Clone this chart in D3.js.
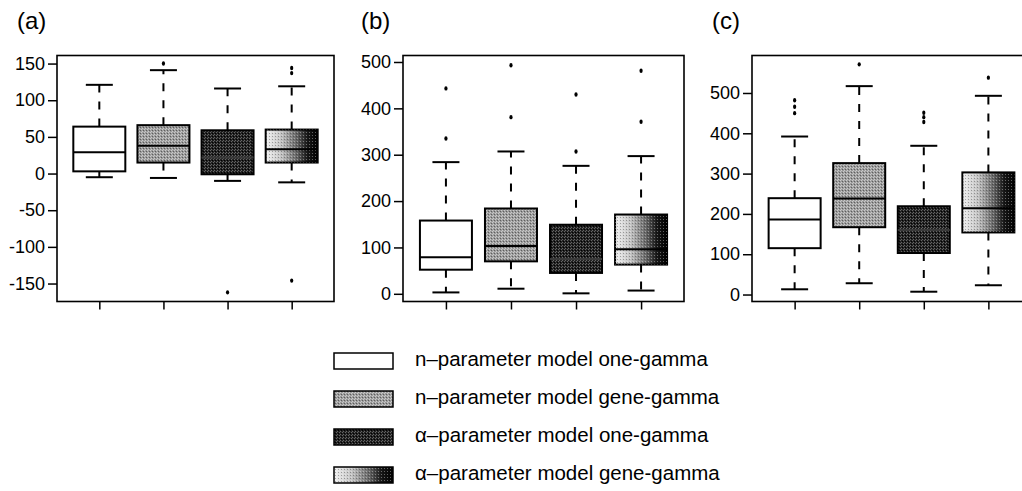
<!DOCTYPE html>
<html>
<head>
<meta charset="utf-8">
<script src="https://cdn.jsdelivr.net/npm/d3@7"></script>
<style>
  html, body { margin: 0; padding: 0; background: #fff; }
  svg { display: block; }
  text { font-family: "Liberation Sans", Arial, Helvetica, sans-serif; fill: #000; }
</style>
</head>
<body>
<svg id="chart" width="1022" height="491"></svg>
<script>
// ---- data -------------------------------------------------------------
const seriesNames = [
  "n\u2013parameter model one-gamma",
  "n\u2013parameter model gene-gamma",
  "\u03b1\u2013parameter model one-gamma",
  "\u03b1\u2013parameter model gene-gamma"
];
const panelLabels = ["(a)", "(b)", "(c)"];

// five-number summaries per series: [lower whisker, Q1, median, Q3, upper whisker]
const statsA = [[-5, 3, 29, 64, 121], [-6, 15, 38, 66, 141], [-10, -1, 22, 59, 116], [-12, 15, 33, 60, 119]];
const statsB = [[3, 52, 79, 158, 284], [11, 70, 103, 184, 307], [1, 45, 75, 149, 276], [7, 63, 96, 171, 297]];
const statsC = [[13, 115, 186, 239, 392], [28, 167, 238, 326, 517], [7, 103, 160, 219, 369], [23, 154, 214, 303, 493]];

// outlying points per series
const outliersA = [[], [150], [-162], [144, 137, -146]];
const outliersB = [[335, 443], [381, 493], [307, 430], [371, 481]];
const outliersC = [[450, 466, 482], [571], [428, 440, 451], [538]];

// y-axis tick values and visible value ranges
const ticksA = [-150, -100, -50, 0, 50, 100, 150];
const ticksB = [0, 100, 200, 300, 400, 500];
const ticksC = [0, 100, 200, 300, 400, 500];
const domainA = [-174.5, 161];
const domainB = [-16.6, 514];
const domainC = [-17.3, 593];

// ---- drawing ----------------------------------------------------------
const svg = d3.select("#chart");
const defs = svg.append("defs");

// halftone-like textures for the fills
function texture(id, base, light, dark) {
  const p = defs.append("pattern").attr("id", id)
    .attr("patternUnits", "userSpaceOnUse").attr("width", 3).attr("height", 3);
  p.append("rect").attr("width", 3).attr("height", 3).attr("fill", base);
  p.append("rect").attr("x", 0).attr("y", 0).attr("width", 1).attr("height", 1).attr("fill", light);
  p.append("rect").attr("x", 2).attr("y", 1).attr("width", 1).attr("height", 1).attr("fill", dark);
  p.append("rect").attr("x", 1).attr("y", 2).attr("width", 1).attr("height", 1).attr("fill", light);
}
texture("texGray", "#9c9c9c", "#cacaca", "#5e5e5e");
texture("texDark", "#222222", "#666666", "#000000");

const grad = defs.append("linearGradient").attr("id", "fade")
  .attr("x1", "0").attr("x2", "1").attr("y1", "0").attr("y2", "0");
[[0, "#f2f2f2"], [0.3, "#c4c4c4"], [0.6, "#666666"], [0.8, "#181818"], [1, "#000"]]
  .forEach(([o, c]) => grad.append("stop").attr("offset", o).attr("stop-color", c));

const dots = defs.append("pattern").attr("id", "dots")
  .attr("patternUnits", "userSpaceOnUse").attr("width", 3).attr("height", 3);
dots.append("rect").attr("x", 0).attr("y", 0).attr("width", 1).attr("height", 1).attr("fill", "#fff").attr("opacity", 0.35);
dots.append("rect").attr("x", 2).attr("y", 1).attr("width", 1).attr("height", 1).attr("fill", "#000").attr("opacity", 0.3);

const fills = ["#ffffff", "url(#texGray)", "url(#texDark)", "url(#fade)"];

const panels = [
  { label: panelLabels[0], stats: statsA, outliers: outliersA, ticks: ticksA, domain: domainA,
    left: 57, right: 334, labelX: 17 },
  { label: panelLabels[1], stats: statsB, outliers: outliersB, ticks: ticksB, domain: domainB,
    left: 403, right: 684, labelX: 361 },
  { label: panelLabels[2], stats: statsC, outliers: outliersC, ticks: ticksC, domain: domainC,
    left: 752, right: 1031, labelX: 712 }
];
const plotTop = 55.5, plotBottom = 301.5;
const boxW = 52, capW = 27;

panels.forEach(p => {
  const g = svg.append("g");
  const x = d3.scalePoint().domain(seriesNames).range([p.left, p.right]).padding(0.66);
  const y = d3.scaleLinear().domain(p.domain).range([plotBottom, plotTop]);

  g.append("text").attr("x", p.labelX).attr("y", 29)
    .style("font-size", "24px").text(p.label);

  // y axis (plain hyphen for negative numbers)
  const ya = g.append("g").attr("transform", `translate(${p.left},0)`)
    .call(d3.axisLeft(y).tickValues(p.ticks).tickFormat(d => String(d))
      .tickSize(9).tickPadding(3).tickSizeOuter(0));
  ya.select(".domain").remove();
  ya.selectAll("line").attr("stroke", "#000").attr("stroke-width", 1.5);
  ya.selectAll("text").style("font-size", "18px").style("font-family", "Liberation Sans, Arial, sans-serif");

  // x axis ticks only
  const xa = g.append("g").attr("transform", `translate(0,${plotBottom})`)
    .call(d3.axisBottom(x).tickSize(8).tickFormat(""));
  xa.select(".domain").remove();
  xa.selectAll("line").attr("stroke", "#000").attr("stroke-width", 1.5);

  // frame
  g.append("rect").attr("x", p.left).attr("y", plotTop)
    .attr("width", p.right - p.left).attr("height", plotBottom - plotTop)
    .attr("fill", "none").attr("stroke", "#000").attr("stroke-width", 1.6);

  p.stats.forEach((s, i) => {
    const cx = x(seriesNames[i]);
    const [lo, q1, med, q3, hi] = s;
    const bg = g.append("g");
    // dashed whiskers
    [[q3, hi], [q1, lo]].forEach(([a, b]) => {
      bg.append("line").attr("x1", cx).attr("x2", cx).attr("y1", y(a)).attr("y2", y(b))
        .attr("stroke", "#000").attr("stroke-width", 2).attr("stroke-dasharray", "8,9");
    });
    [lo, hi].forEach(v => {
      bg.append("line").attr("x1", cx - capW / 2).attr("x2", cx + capW / 2)
        .attr("y1", y(v)).attr("y2", y(v)).attr("stroke", "#000").attr("stroke-width", 2);
    });
    // box
    bg.append("rect").attr("x", cx - boxW / 2).attr("y", y(q3))
      .attr("width", boxW).attr("height", y(q1) - y(q3))
      .attr("fill", fills[i]).attr("stroke", "#000").attr("stroke-width", 2);
    if (i === 3) {
      bg.append("rect").attr("x", cx - boxW / 2).attr("y", y(q3))
        .attr("width", boxW).attr("height", y(q1) - y(q3)).attr("fill", "url(#dots)");
    }
    bg.append("line").attr("x1", cx - boxW / 2).attr("x2", cx + boxW / 2)
      .attr("y1", y(med)).attr("y2", y(med))
      .attr("stroke", i === 2 ? "#3a3a3a" : "#000").attr("stroke-width", 2);
    // outliers
    bg.selectAll("ellipse.out").data(p.outliers[i]).enter().append("ellipse")
      .attr("class", "out").attr("cx", cx).attr("cy", d => y(d))
      .attr("rx", 1.6).attr("ry", 2.2).attr("fill", "#000");
  });
});

// ---- legend -----------------------------------------------------------
const legend = svg.append("g");
const legendY = d3.scalePoint().domain(seriesNames).range([353, 467]);
seriesNames.forEach((name, i) => {
  const ty = legendY(name);
  legend.append("rect").attr("x", 334).attr("y", ty).attr("width", 59).attr("height", 16)
    .attr("fill", fills[i]).attr("stroke", "#000").attr("stroke-width", 1.5);
  if (i === 3) {
    legend.append("rect").attr("x", 334).attr("y", ty).attr("width", 59).attr("height", 16)
      .attr("fill", "url(#dots)");
  }
  legend.append("text").attr("x", 415).attr("y", ty + 12.5)
    .style("font-size", "20.5px").text(name);
});
</script>
</body>
</html>
